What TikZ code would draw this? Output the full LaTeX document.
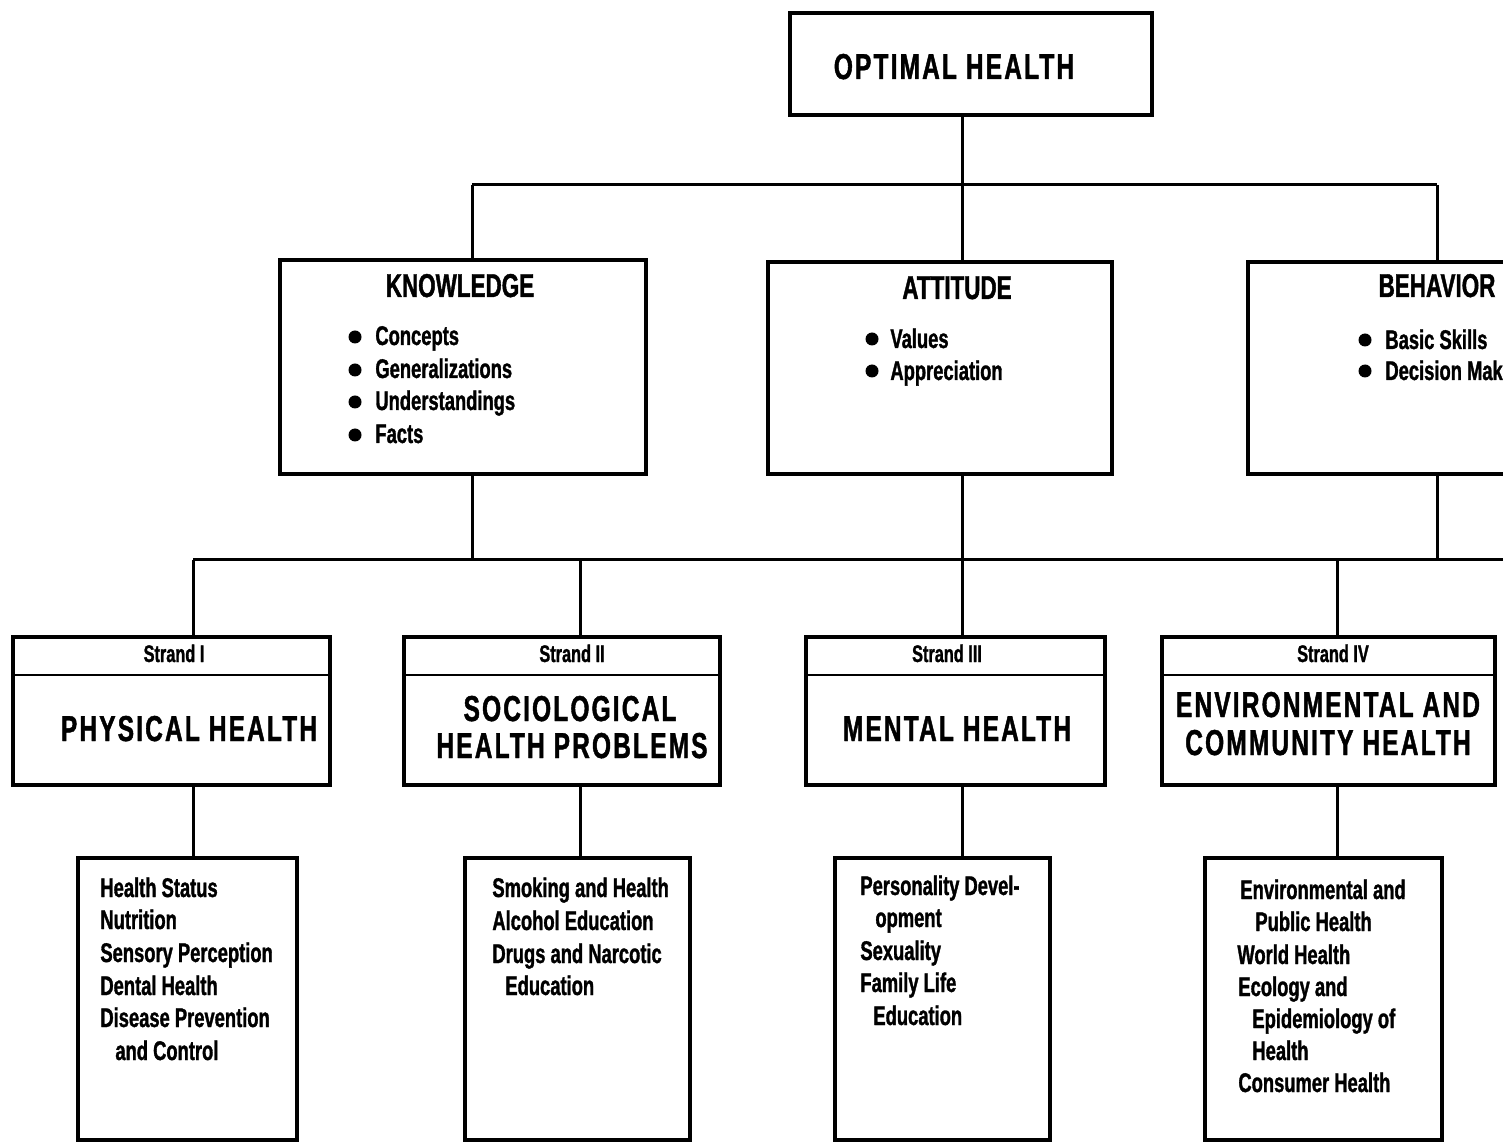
\documentclass[tikz,border=0pt]{standalone}
\usepackage{fontspec}
\setmainfont{Liberation Sans}[FakeStretch=0.68, BoldFeatures={FakeBold=1.2}]

\begin{document}
\begin{tikzpicture}[x=0.5pt, y=-0.5pt,
  box/.style={draw, line width=1.8pt, inner sep=0pt},
  link/.style={line width=1.5pt},
  big/.style={font=\bfseries\fontsize{18}{21}\selectfont\addfontfeatures{LetterSpace=6}, inner sep=0pt, anchor=base},
  head/.style={font=\bfseries\fontsize{16.5}{19}\selectfont, inner sep=0pt, anchor=base},
  strandlbl/.style={font=\bfseries\fontsize{12}{14}\selectfont, inner sep=0pt, anchor=base},
  item/.style={font=\bfseries\fontsize{13.5}{16}\selectfont, inner sep=0pt, anchor=base west},
  dot/.style={circle, fill, inner sep=0pt, minimum size=6.5pt}]
  \useasboundingbox (0,0) rectangle (1503,1143);
  \clip (0,0) rectangle (1503,1143);
  \fill[white] (0,0) rectangle (1503,1143);

  \node[box, minimum width=181pt, minimum height=51pt] (optimal) at (971,64) {};
  \node[big] (optimal-t) at (954,79) {OPTIMAL HEALTH};

  \node[box, minimum width=183pt, minimum height=107pt] (knowledge) at (463,367) {};
  \node[box, minimum width=172pt, minimum height=106pt] (attitude) at (940,368) {};
  \node[box, minimum width=189pt, minimum height=106pt] (behavior) at (1437,368) {};
  \node[head] (knowledge-t) at (460,297) {KNOWLEDGE};
  \node[head] (attitude-t) at (957,299) {ATTITUDE};
  \node[head] (behavior-t) at (1437,297) {BEHAVIOR};
  \foreach \ty/\tt [count=\i] in {345/Concepts, 378/Generalizations, 410/Understandings, 443/Facts} {
    \node[dot] (kdot\i) at (355,\ty-8) {};
    \node[item] (kitem\i) at (375,\ty) {\tt};
  }
  \foreach \ty/\tt [count=\i] in {348/Values, 380/Appreciation} {
    \node[dot] (adot\i) at (872,\ty-9) {};
    \node[item] (aitem\i) at (890,\ty) {\tt};
  }
  \foreach \ty/\tt [count=\i] in {349/Basic Skills, 380/Decision Making} {
    \node[dot] (bdot\i) at (1365,\ty-9) {};
    \node[item] (bitem\i) at (1385,\ty) {\tt};
  }

  \node[box, minimum width=158.5pt, minimum height=74pt] (physical) at (171.5,711) {};
  \node[box, minimum width=158pt, minimum height=74pt] (sociological) at (562,711) {};
  \node[box, minimum width=149.5pt, minimum height=74pt] (mental) at (955.5,711) {};
  \node[box, minimum width=166.5pt, minimum height=74pt] (environmental) at (1328.5,711) {};
  \coordinate (hdr) at (0,675);
  \foreach \s in {physical, sociological, mental, environmental}
    \draw[line width=1.2pt] (\s.west |- hdr) -- (\s.east |- hdr);
  \node[strandlbl] (physical-s) at (174,662) {Strand I};
  \node[strandlbl] (sociological-s) at (572,662) {Strand II};
  \node[strandlbl] (mental-s) at (947,662) {Strand III};
  \node[strandlbl] (environmental-s) at (1333,662) {Strand IV};
  \node[big] (physical-t) at (189,741) {PHYSICAL HEALTH};
  \node[big] (sociological-t1) at (570,721) {SOCIOLOGICAL};
  \node[big] (sociological-t2) at (572,758) {HEALTH PROBLEMS};
  \node[big] (mental-t) at (957,741) {MENTAL HEALTH};
  \node[big] (environmental-t1) at (1328,717) {ENVIRONMENTAL AND};
  \node[big] (environmental-t2) at (1328,755) {COMMUNITY HEALTH};

  \node[box, minimum width=109.5pt, minimum height=141pt] (physlist) at (187.5,999) {};
  \node[box, minimum width=112.5pt, minimum height=141pt] (socilist) at (577.5,999) {};
  \node[box, minimum width=107.5pt, minimum height=141pt] (mentlist) at (942.5,999) {};
  \node[box, minimum width=118.5pt, minimum height=141pt] (envlist) at (1323.5,999) {};
  \foreach \tx/\ty/\tt [count=\i] in {100/897/Health Status, 100/929/Nutrition,
      100/962/Sensory Perception, 100/995/Dental Health, 100/1027/Disease Prevention,
      115/1060/and Control}
    \node[item] (phys\i) at (\tx,\ty) {\tt};
  \foreach \tx/\ty/\tt [count=\i] in {492/897/Smoking and Health, 492/930/Alcohol Education,
      492/963/Drugs and Narcotic, 505/995/Education}
    \node[item] (soci\i) at (\tx,\ty) {\tt};
  \foreach \tx/\ty/\tt [count=\i] in {860/895/Personality Devel-, 875/927/opment,
      860/960/Sexuality, 860/992/Family Life, 873/1025/Education}
    \node[item] (ment\i) at (\tx,\ty) {\tt};
  \foreach \tx/\ty/\tt [count=\i] in {1240/899/Environmental and, 1255/931/Public Health,
      1237/964/World Health, 1238/996/Ecology and, 1252/1028/Epidemiology of,
      1252/1060/Health, 1238/1092/Consumer Health}
    \node[item] (env\i) at (\tx,\ty) {\tt};

  \coordinate (tk) at (472,185);
  \coordinate (ta) at (962,185);
  \coordinate (tb) at (1437,185);
  \draw[link] (tk) -- (tb);
  \draw[link] (ta |- optimal.south) -- (ta |- attitude.north);
  \draw[link] (tk) -- (tk |- knowledge.north);
  \draw[link] (tb) -- (tb |- behavior.north);

  \coordinate (m1) at (193,560);
  \coordinate (m2) at (580,560);
  \coordinate (m3) at (962,560);
  \coordinate (m4) at (1337,560);
  \coordinate (mk) at (472,560);
  \coordinate (mb) at (1437,560);
  \coordinate (mr) at (1520,560);
  \draw[link] (m1) -- (mr);
  \draw[link] (mk |- knowledge.south) -- (mk);
  \draw[link] (mb |- behavior.south) -- (mb);
  \draw[link] (m3 |- attitude.south) -- (m3 |- mental.north);
  \draw[link] (m1) -- (m1 |- physical.north);
  \draw[link] (m2) -- (m2 |- sociological.north);
  \draw[link] (m4) -- (m4 |- environmental.north);

  \draw[link] (m1 |- physical.south) -- (m1 |- physlist.north);
  \draw[link] (m2 |- sociological.south) -- (m2 |- socilist.north);
  \draw[link] (m3 |- mental.south) -- (m3 |- mentlist.north);
  \draw[link] (m4 |- environmental.south) -- (m4 |- envlist.north);
\end{tikzpicture}
\end{document}
